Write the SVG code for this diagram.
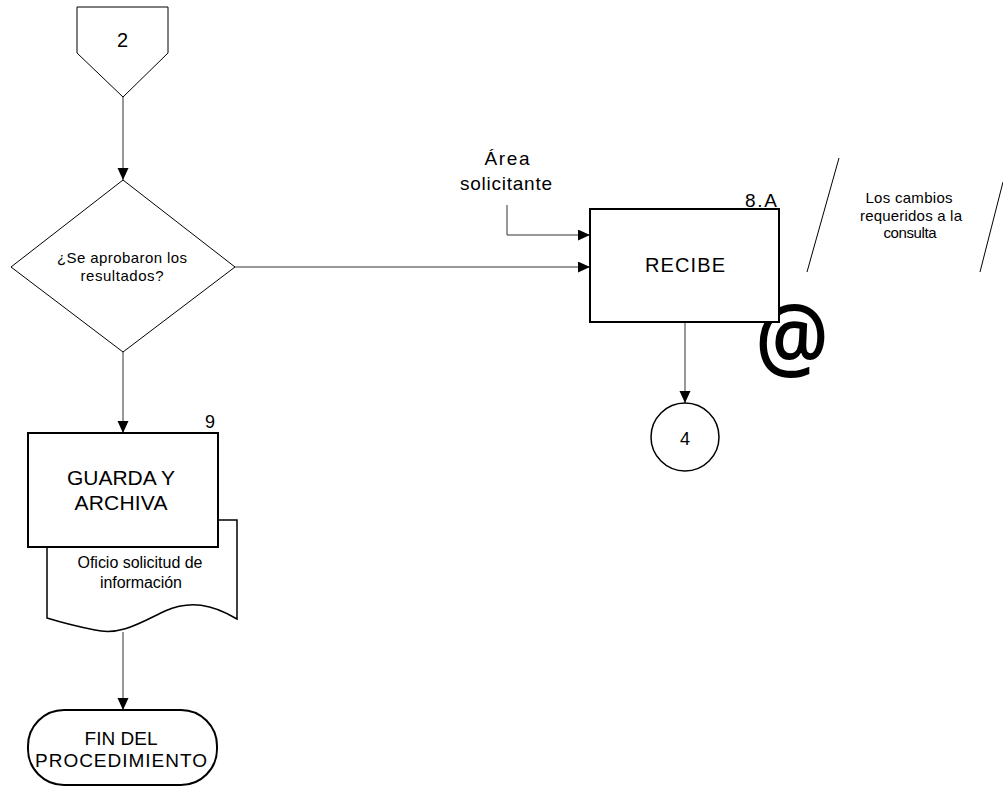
<svg xmlns="http://www.w3.org/2000/svg" width="1003" height="786" viewBox="0 0 1003 786">
  <style>
    .lbl { font-family: "Liberation Sans", Arial, sans-serif; fill: #000; }
    .shape { fill: #fff; stroke: #000; }
    .conn { fill: none; stroke: #333; stroke-width: 1; }
  </style>
  <defs>
    <marker id="arrow" markerUnits="userSpaceOnUse" markerWidth="13" markerHeight="12" refX="12" refY="5.5" orient="auto">
      <path d="M0,0 L12,5.5 L0,11 Z" fill="#000"/>
    </marker>
  </defs>
  <rect width="1003" height="786" fill="#fff"/>

  <!-- connectors -->
  <g id="connectors" class="conn">
    <line x1="123" y1="97" x2="123" y2="180" marker-end="url(#arrow)"/>
    <line x1="235" y1="267" x2="590" y2="267" marker-end="url(#arrow)"/>
    <polyline points="507,205 507,235 590,235" marker-end="url(#arrow)"/>
    <line x1="685" y1="322" x2="685" y2="403" marker-end="url(#arrow)"/>
    <line x1="123" y1="352" x2="123" y2="433" marker-end="url(#arrow)"/>
    <line x1="123" y1="632" x2="123" y2="710" marker-end="url(#arrow)"/>
  </g>

  <!-- off-page connector 2 -->
  <g id="offpage-2">
    <path class="shape" stroke-width="1" stroke="#444" d="M77,7 H168 V53 L123,97 L77,53 Z"/>
    <text class="lbl" x="122.5" y="47" font-size="20" text-anchor="middle">2</text>
  </g>

  <!-- decision -->
  <g id="decision">
    <path class="shape" stroke-width="1" d="M123,180 L235,267 L123,352 L11,267 Z"/>
    <text class="lbl" x="122" y="263" font-size="15" text-anchor="middle" textLength="130" lengthAdjust="spacing">¿Se aprobaron los</text>
    <text class="lbl" x="122" y="281" font-size="15" text-anchor="middle" textLength="83" lengthAdjust="spacing">resultados?</text>
  </g>

  <!-- external entity label -->
  <g id="area-solicitante">
    <text class="lbl" x="507" y="165" font-size="19" text-anchor="middle" textLength="45" lengthAdjust="spacing">Área</text>
    <text class="lbl" x="506" y="190" font-size="19" text-anchor="middle" textLength="92" lengthAdjust="spacing">solicitante</text>
  </g>

  <!-- e-mail mark behind the activity box -->
  <g id="email-mark">
    <text transform="translate(792,370) scale(1,1.12)" x="0" y="0" font-family="'Open Sans', 'Noto Sans', sans-serif" font-weight="600" font-size="82" text-anchor="middle" fill="#000">@</text>
  </g>

  <!-- activity 8.A -->
  <g id="recibe">
    <rect class="shape" stroke-width="2" x="590" y="209" width="189" height="113"/>
    <text class="lbl" x="685" y="272" font-size="20" text-anchor="middle" textLength="80" lengthAdjust="spacing">RECIBE</text>
    <text class="lbl" x="777" y="207" font-size="19" text-anchor="end" textLength="32" lengthAdjust="spacing">8.A</text>
  </g>

  <!-- annotation -->
  <g id="annotation">
    <line x1="839" y1="158" x2="807" y2="272" stroke="#000" stroke-width="1"/>
    <line x1="1003" y1="182" x2="980" y2="272" stroke="#000" stroke-width="1"/>
    <text class="lbl" x="909" y="203" font-size="15" text-anchor="middle" textLength="87" lengthAdjust="spacing">Los cambios</text>
    <text class="lbl" x="911" y="221" font-size="15" text-anchor="middle" textLength="102" lengthAdjust="spacing">requeridos a la</text>
    <text class="lbl" x="910" y="238" font-size="15" text-anchor="middle" textLength="53" lengthAdjust="spacing">consulta</text>
  </g>

  <!-- connector 4 -->
  <g id="connector-4">
    <circle class="shape" stroke-width="1.5" cx="685" cy="437" r="34"/>
    <text class="lbl" x="685" y="445" font-size="18" text-anchor="middle">4</text>
  </g>

  <!-- document -->
  <g id="document">
    <path class="shape" stroke-width="1.5" d="M47,520 H237 V619 C212,604 190,600 165,611 C140,623 120,636 95,630 C75,626 60,622 47,618 Z"/>
    <text class="lbl" x="140" y="568" font-size="16" text-anchor="middle" textLength="125" lengthAdjust="spacing">Oficio solicitud de</text>
    <text class="lbl" x="141" y="588" font-size="16" text-anchor="middle" textLength="82" lengthAdjust="spacing">información</text>
  </g>

  <!-- activity 9 -->
  <g id="guarda">
    <rect class="shape" stroke-width="2" x="28" y="433" width="190" height="114"/>
    <text class="lbl" x="121" y="485" font-size="21" text-anchor="middle" textLength="108" lengthAdjust="spacing">GUARDA Y</text>
    <text class="lbl" x="121" y="510" font-size="21" text-anchor="middle" textLength="93" lengthAdjust="spacing">ARCHIVA</text>
    <text class="lbl" x="215" y="428" font-size="18" text-anchor="end">9</text>
  </g>

  <!-- terminator -->
  <g id="fin">
    <rect class="shape" stroke-width="2" x="28" y="710" width="189" height="75" rx="36" ry="36"/>
    <text class="lbl" x="121" y="745" font-size="19" text-anchor="middle" textLength="73" lengthAdjust="spacing">FIN DEL</text>
    <text class="lbl" x="121" y="767" font-size="19" text-anchor="middle" textLength="172" lengthAdjust="spacing">PROCEDIMIENTO</text>
  </g>
</svg>
